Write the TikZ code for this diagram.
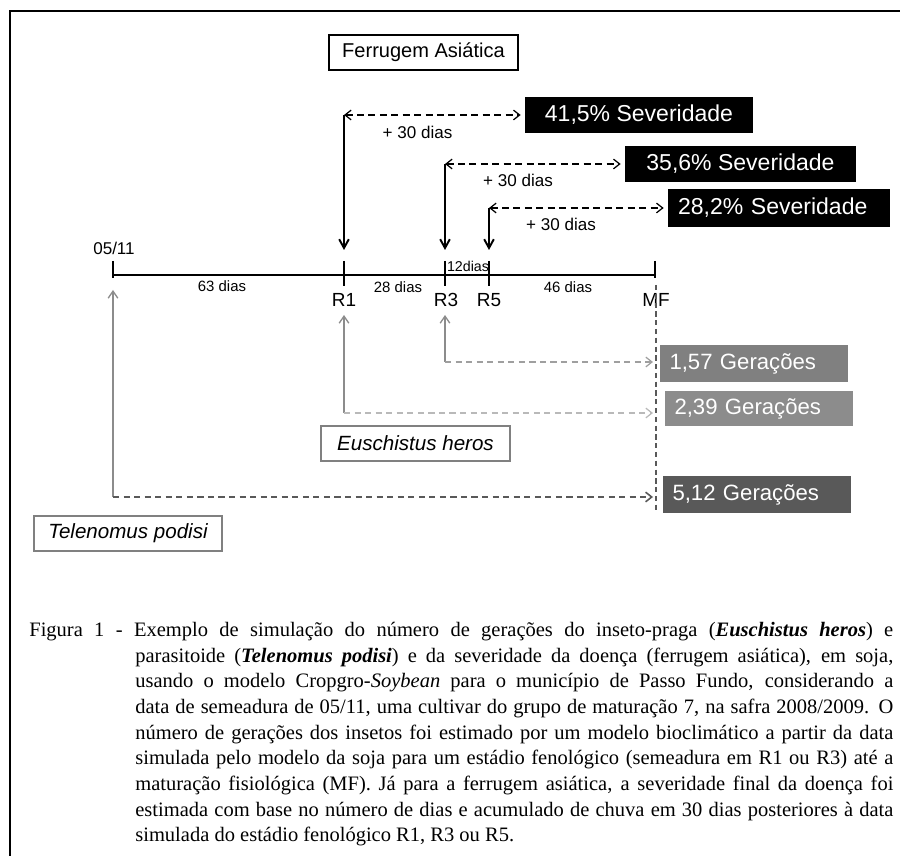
\documentclass[tikz,border=0pt]{standalone}
\usepackage{fontspec}
\setmainfont{Liberation Serif}
\setsansfont{Liberation Sans}
\usetikzlibrary{arrows.meta}

\definecolor{gerA}{gray}{0.50}
\definecolor{gerB}{gray}{0.55}
\definecolor{gerC}{gray}{0.35}

\begin{document}
\begin{tikzpicture}[x=0.2mm, y=-0.2mm, >={Straight Barb[length=5pt,width=5.5pt]},
    rotulo/.style={inner sep=0, font=\sffamily\fontsize{9.7}{11}\selectfont},
    dias/.style={inner sep=0, font=\sffamily\fontsize{8.5}{10}\selectfont},
    estadio/.style={inner sep=0, font=\sffamily\fontsize{10.8}{12}\selectfont},
    caixa/.style={draw, line width=1pt, minimum width=37.8mm, minimum height=7mm, inner sep=0,
        font=\sffamily\fontsize{11.4}{13}\selectfont},
    inseto/.style={caixa, draw=gray, font=\sffamily\itshape\fontsize{11.7}{13}\selectfont},
    sev/.style={fill=black, text=white, minimum height=7.2mm, inner xsep=2mm, inner ysep=0,
        font=\sffamily\fontsize{13.1}{14}\selectfont},
    ger/.style={text=white, minimum height=7.4mm, text width=33.6mm, inner xsep=2mm, inner ysep=0,
        align=left, font=\sffamily\fontsize{12.6}{14}\selectfont},
    seta/.style={->, line width=1.1pt},
    marca/.style={line width=1.1pt},
    tracejada/.style={<->, line width=0.7pt, dash pattern=on 4pt off 2.5pt,
        >={Straight Barb[length=3.5pt,width=5.5pt]}},
    cinzaseta/.style={->, draw=gray!90, line width=0.75pt, >={Straight Barb[length=4pt,width=5.5pt]}},
    cinzatraco/.style={->, line width=0.7pt, dash pattern=on 3.5pt off 2.5pt,
        >={Straight Barb[length=3.5pt,width=5.5pt]}}]

\useasboundingbox (0,0) rectangle (900,856);
\draw[line width=1.1pt] (10,856) -- (10,11) -- (900,11);

% linha do tempo
\coordinate (d0) at (113,275);
\coordinate (r1) at (344,275);
\coordinate (r3) at (445,275);
\coordinate (r5) at (489,275);
\coordinate (mf) at (655,275);
\draw[line width=1.7pt] (d0) -- (mf);
\foreach \p in {r1,r3,r5} \draw[marca] (\p) ++(0,-14) -- ++(0,25);
\foreach \p in {d0,mf} \draw[marca] (\p) ++(0,-14) -- ++(0,17);

\node[rotulo] (data) at (114,248) {05/11};
\node[dias] (l63) at (222,286) {63 dias};
\node[dias] (l28) at (398,287) {28 dias};
\node[dias] (l46) at (568,287) {46 dias};
\node[inner sep=0, font=\sffamily\fontsize{8.1}{9}\selectfont] (l12) at (468,266) {12dias};
\node[estadio] (lr1) at (344,300) {R1};
\node[estadio] (lr3) at (446,300) {R3};
\node[estadio] (lr5) at (489,300) {R5};
\node[estadio] (lmf) at (656,300) {MF};

% ferrugem
\node[caixa] (ferr) at (423.5,52.5) {Ferrugem Asiática};
\node[sev, minimum width=45.6mm] (sev1) at (639,115) {41,5\% Severidade};
\node[sev, minimum width=46.2mm] (sev2) at (740.5,164) {35,6\% Severidade};
\node[sev, minimum height=7.6mm, text width=40.4mm, align=left] (sev3) at (779,208) {28,2\% Severidade};

\coordinate (t1) at (r1 |- sev1.west);
\coordinate (t3) at (r3 |- sev2.west);
\coordinate (t5) at (r5 |- sev3.west);
\draw[tracejada, shorten >=0.8mm] (t1) -- (sev1.west);
\draw[tracejada, shorten >=0.8mm] (t3) -- (sev2.west);
\draw[tracejada, shorten >=0.8mm] (t5) -- (sev3.west);
\draw[seta, shorten >=5mm] (t1) -- (r1);
\draw[seta, shorten >=5mm] (t3) -- (r3);
\draw[seta, shorten >=5mm] (t5) -- (r5);
\node[rotulo] (m1) at (417.5,132) {+ 30 dias};
\node[rotulo] (m3) at (518,180) {+ 30 dias};
\node[rotulo] (m5) at (561,224) {+ 30 dias};

% insetos
\coordinate (mft) at (656,285);
\coordinate (mfb) at (656,513);
\draw[draw=gerC, line width=0.7pt, dash pattern=on 3pt off 2pt] (mft) -- (mfb);

\node[ger, fill=gerA] (ger1) at (753.5,363.5) {1,57 Gerações};
\node[ger, fill=gerB, minimum height=7mm] (ger2) at (758.5,408.5) {2,39 Gerações};
\node[ger, fill=gerC] (ger3) at (756.5,494.5) {5,12 Gerações};

\coordinate (c0) at (113,497);
\coordinate (c1) at (344,413);
\coordinate (c3) at (445,362);
\draw[cinzaseta, shorten >=3mm] (c0) -- (d0);
\draw[cinzaseta, shorten >=8mm] (c1) -- (r1);
\draw[cinzaseta, shorten >=8mm] (c3) -- (r3);
\draw[cinzatraco, draw=gray!75, shorten >=0.6mm] (c3) -- (c3 -| mfb);
\draw[cinzatraco, draw=gray!55, shorten >=0.6mm] (c1) -- (c1 -| mfb);
\draw[cinzatraco, draw=gerC, line width=0.9pt, shorten >=0.6mm] (c0) -- (c0 -| mfb);

\node[inseto] (eus) at (415.5,443.5) {Euschistus heros};
\node[inseto, minimum width=37.6mm] (tel) at (128,533.5) {Telenomus podisi};

\node[anchor=north west, inner sep=0] (legenda) at (29,622)
    {\begin{minipage}[t]{172.8mm}\fontsize{11.67}{14.6}\selectfont
    \noindent\hangindent=21.2mm\hangafter=1\tolerance=9999 Figura 1 - Exemplo de simulação do número de gerações do inseto-praga (\textbf{\textit{Euschistus heros}}) e\linebreak
    parasitoide (\textbf{\textit{Telenomus podisi}}) e da severidade da doença (ferrugem asiática), em soja,\linebreak
    usando o modelo Cropgro-\textit{Soybean} para o município de Passo Fundo, considerando a\linebreak
    data de semeadura de 05/11, uma cultivar do grupo de maturação 7, na safra 2008/2009. O\linebreak
    número de gerações dos insetos foi estimado por um modelo bioclimático a partir da data\linebreak
    simulada pelo modelo da soja para um estádio fenológico (semeadura em R1 ou R3) até a\linebreak
    maturação fisiológica (MF). Já para a ferrugem asiática, a severidade final da doença foi\linebreak
    estimada com base no número de dias e acumulado de chuva em 30 dias posteriores à data\linebreak
    simulada do estádio fenológico R1, R3 ou R5.\end{minipage}};
\end{tikzpicture}
\end{document}
